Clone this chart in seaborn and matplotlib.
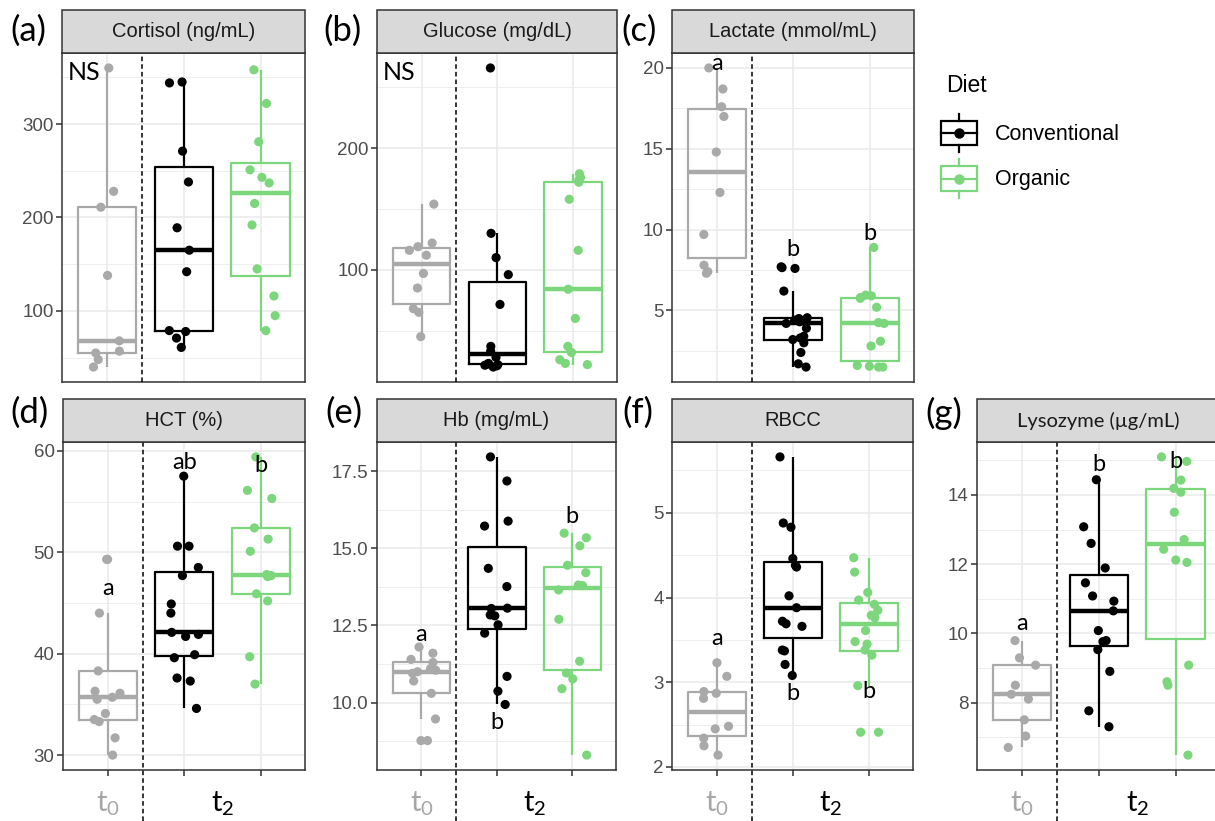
import numpy as np
import pandas as pd
import matplotlib
matplotlib.use("Agg")
import matplotlib.pyplot as plt
import matplotlib.transforms as mtrans
from matplotlib.patches import Rectangle
from matplotlib.lines import Line2D
from matplotlib.legend_handler import HandlerBase
from matplotlib.ticker import MultipleLocator
import seaborn as sns

# ---------------- data ----------------
GROUPS = ["t0", "Conventional", "Organic"]

cortisol_t0 = [360, 228, 211, 138, 68, 57, 55, 48, 40]
cortisol_conv = [345, 344, 271, 238, 189, 165, 142, 79, 78, 71, 61]
cortisol_org = [358, 322, 281, 251, 243, 237, 215, 192, 145, 116, 95, 79]

glucose_t0 = [154, 122, 119, 116, 112, 97, 85, 68, 65, 45]
glucose_conv = [266, 130, 110, 96, 71.5, 37, 33, 28, 23, 22.5, 22, 21.5, 21, 20]
glucose_org = [179, 176, 174, 172, 158, 116, 84, 60, 37, 32, 26, 23, 22]

lactate_t0 = [20.0, 18.7, 17.6, 17.0, 14.8, 12.3, 9.7, 7.8, 7.4, 7.3]
lactate_conv = [7.7, 7.65, 7.6, 6.2, 4.55, 4.5, 4.4, 4.3, 4.2, 3.9, 3.4, 3.3, 3.2, 3.0, 2.4, 1.7, 1.5]
lactate_org = [8.9, 5.95, 5.9, 5.8, 5.75, 5.2, 4.25, 4.2, 3.1, 2.8, 1.6, 1.55, 1.5, 1.5]

hct_t0 = [49.3, 49.3, 44.0, 38.3, 36.3, 36.1, 35.7, 35.5, 34.1, 33.5, 33.3, 31.7, 30.0]
hct_conv = [57.5, 50.6, 50.6, 48.5, 47.7, 44.9, 44.0, 42.1, 41.9, 41.7, 39.9, 39.6, 37.6, 37.3, 34.6]
hct_org = [59.4, 56.1, 55.3, 52.4, 51.3, 50.1, 47.8, 47.7, 47.6, 45.9, 45.2, 39.7, 37.0]

hb_t0 = [11.8, 11.6, 11.4, 11.3, 11.1, 11.05, 11.0, 10.95, 10.7, 10.3, 9.47, 8.77, 8.77]
hb_conv = [17.96, 17.18, 15.88, 15.72, 14.35, 13.76, 13.06, 13.05, 12.84, 12.81, 12.52, 12.25, 10.85, 10.37, 9.94]
hb_org = [15.49, 15.34, 15.08, 14.45, 14.21, 13.81, 13.79, 13.65, 12.70, 11.34, 10.96, 10.77, 10.45, 8.30]

rbcc_t0 = [3.23, 3.07, 2.89, 2.87, 2.81, 2.48, 2.45, 2.34, 2.25, 2.14]
rbcc_conv = [5.66, 4.88, 4.83, 4.46, 4.38, 4.36, 4.02, 3.88, 3.72, 3.69, 3.66, 3.38, 3.37, 3.21, 3.08]
rbcc_org = [4.47, 4.30, 4.06, 3.97, 3.92, 3.85, 3.79, 3.76, 3.61, 3.48, 3.45, 3.38, 3.32, 2.96, 2.41, 2.41]

lys_t0 = [9.79, 9.29, 9.08, 8.50, 8.24, 8.10, 7.50, 7.03, 6.70]
lys_conv = [14.44, 13.08, 12.60, 11.89, 11.46, 11.08, 10.93, 10.65, 10.08, 9.79, 9.76, 9.53, 8.90, 7.76, 7.30]
lys_org = [15.10, 14.97, 14.43, 14.19, 14.08, 13.50, 12.71, 12.43, 12.12, 12.05, 9.08, 8.60, 8.50, 6.48]

panel_tags = ["(a)", "(b)", "(c)", "(d)", "(e)", "(f)", "(g)"]
panel_titles = ["Cortisol (ng/mL)", "Glucose (mg/dL)", "Lactate (mmol/mL)",
                "HCT (%)", "Hb (mg/mL)", "RBCC", "Lysozyme (µg/mL)"]
panel_series = [
    (cortisol_t0, cortisol_conv, cortisol_org),
    (glucose_t0, glucose_conv, glucose_org),
    (lactate_t0, lactate_conv, lactate_org),
    (hct_t0, hct_conv, hct_org),
    (hb_t0, hb_conv, hb_org),
    (rbcc_t0, rbcc_conv, rbcc_org),
    (lys_t0, lys_conv, lys_org),
]
# significance letters (group index, y, text)
panel_letters = [
    [], [],
    [(0, 20.25, "a"), (1, 8.8, "b"), (2, 9.75, "b")],
    [(0, 46.4, "a"), (1, 58.85, "ab"), (2, 58.6, "b")],
    [(0, 12.2, "a"), (1, 9.34, "b"), (2, 16.02, "b")],
    [(0, 3.52, "a"), (1, 2.87, "b"), (2, 2.89, "b")],
    [(0, 10.27, "a"), (1, 14.89, "b"), (2, 14.98, "b")],
]
panel_ns = [True, True, False, False, False, False, False]
major_step = [100, 100, 5, 10, 2.5, 1, 2]
tick_fmt = ["{:.0f}", "{:.0f}", "{:.0f}", "{:.0f}", "{:.1f}", "{:.0f}", "{:.0f}"]
x_labels = ["t$\\mathregular{_0}$", "t$\\mathregular{_2}$"]
legend_title = "Diet"
legend_labels = ["Conventional", "Organic"]

# ---------------- style ----------------
C_GRAY = "#A9A9A9"
C_BLACK = "#000000"
C_GREEN = "#7CD67C"
palette = {"t0": C_GRAY, "Conventional": C_BLACK, "Organic": C_GREEN}
SANS = ["Liberation Sans", "DejaVu Sans"]
CAL = ["Lato", "DejaVu Sans"]
plt.rcParams["font.family"] = SANS

W, H = 1215, 821
fig = plt.figure(figsize=(W / 100, H / 100), dpi=100)

# panel boxes in pixels: x0, x1, ytop, ybottom
panel_px = [
    (62, 305, 53, 382), (377, 617, 53, 382), (672, 914, 53, 382),
    (63, 305, 442, 770), (377, 616, 442, 770), (672, 913, 442, 770), (977, 1220, 442, 770),
]
tag_px = [(10, 31), (323, 31), (621, 31), (10, 413), (325, 413), (622, 413), (925, 413)]
STRIP_PX = 43

np.random.seed(3)
for i in range(7):
    x0, x1, yt, yb = panel_px[i]
    ax = fig.add_axes([x0 / W, 1 - yb / H, (x1 - x0) / W, (yb - yt) / H])
    vals = panel_series[i]
    df = pd.DataFrame({
        "group": np.concatenate([[g] * len(v) for g, v in zip(GROUPS, vals)]),
        "value": np.concatenate([np.asarray(v, float) for v in vals]),
    })
    sns.boxplot(data=df, x="group", y="value", hue="group", order=GROUPS,
                hue_order=GROUPS, palette=palette, fill=False, width=0.76,
                linewidth=1.6, showfliers=False, whis=1.5,
                medianprops=dict(linewidth=3.2), capprops=dict(linewidth=0),
                legend=False, ax=ax)
    sns.stripplot(data=df, x="group", y="value", hue="group", order=GROUPS,
                  hue_order=GROUPS, palette=palette, jitter=0.2, size=6.6,
                  linewidth=0, legend=False, ax=ax, zorder=4)
    lo, hi = df["value"].min(), df["value"].max()
    pad = 0.05 * (hi - lo)
    ax.set_ylim(lo - pad, hi + pad)
    ax.set_xlim(-0.59, 2.58)
    ax.set_xlabel("")
    ax.set_ylabel("")
    ax.set_axisbelow(True)
    ax.yaxis.set_major_locator(MultipleLocator(major_step[i]))
    ax.yaxis.set_minor_locator(MultipleLocator(major_step[i] / 2))
    ax.yaxis.set_major_formatter(matplotlib.ticker.FuncFormatter(
        lambda v, p, f=tick_fmt[i]: f.format(v)))
    ax.set_xticks([0, 1, 2])
    ax.set_xticklabels(["", "", ""])
    ax.grid(which="major", color="#EBEBEB", lw=1.2)
    ax.grid(which="minor", axis="y", color="#EBEBEB", lw=0.6)
    ax.tick_params(axis="y", which="major", length=4, width=1.1, color="#333333",
                   labelsize=13.5, labelcolor="#4D4D4D", pad=2)
    ax.tick_params(axis="y", which="minor", length=0)
    bottom_row = i >= 3
    ax.tick_params(axis="x", which="major", length=4 if bottom_row else 0,
                   width=1.1, color="#333333")
    for s in ax.spines.values():
        s.set_color("#333333")
        s.set_linewidth(1.1)

    ah = yb - yt
    sh = STRIP_PX / ah
    ax.add_patch(Rectangle((0, 1), 1, sh, transform=ax.transAxes, clip_on=False,
                           facecolor="#D9D9D9", edgecolor="#333333", lw=1.1, zorder=5))
    ax.text(0.5, 1 + sh / 2, panel_titles[i], transform=ax.transAxes,
            ha="center", va="center", fontsize=14.5, color="#1A1A1A",
            family=CAL if i == 6 else SANS, zorder=6)

    bt = mtrans.blended_transform_factory(ax.transData, ax.transAxes)
    ybot = -(H - yb) / ah if bottom_row else 0
    ax.plot([0.46, 0.46], [ybot, 1], transform=bt, color="black", lw=1.1,
            ls=(0, (3, 2)), clip_on=False, zorder=3)

    if bottom_row:
        ax.text(0, -34 / ah, x_labels[0], transform=bt, ha="center", va="center",
                fontsize=21, color="#A6A6A6", family=CAL)
        ax.text(1.5, -34 / ah, x_labels[1], transform=bt, ha="center", va="center",
                fontsize=21, color="black", family=CAL)

    if panel_ns[i]:
        ax.text(0.024, 1 - 19 / ah, "NS", transform=ax.transAxes, ha="left",
                va="center", fontsize=18, color="black", family=CAL, zorder=6)
    for gi, yv, txt in panel_letters[i]:
        ax.text(gi, yv, txt, ha="center", va="center", fontsize=17,
                color="black", family=CAL, zorder=6)

    tx, ty = tag_px[i]
    fig.text(tx / W, 1 - ty / H, panel_tags[i], ha="left", va="center",
             fontsize=25, family=CAL, color="black")


class BoxKeyHandler(HandlerBase):
    def create_artists(self, legend, orig_handle, xdescent, ydescent,
                       width, height, fontsize, trans):
        c = orig_handle.get_color()
        x0, y0 = -xdescent, -ydescent
        cx, cy = x0 + width / 2, y0 + height / 2
        bh, wh = height * 0.32, height * 0.5
        arts = [
            Rectangle((x0, cy - bh), width, 2 * bh, fill=False, edgecolor=c,
                      lw=1.6, transform=trans),
            Line2D([x0, x0 + width], [cy, cy], color=c, lw=1.6, transform=trans),
            Line2D([cx, cx], [cy + bh, cy + wh], color=c, lw=1.6, transform=trans),
            Line2D([cx, cx], [cy - bh, cy - wh], color=c, lw=1.6, transform=trans),
            Line2D([cx], [cy], marker="o", ms=6.5, color=c, ls="", transform=trans),
        ]
        return arts


fig.text(946 / W, 1 - 85 / H, legend_title, ha="left", va="center",
         fontsize=16.5, color="black")
handles = [Line2D([], [], color=C_BLACK), Line2D([], [], color=C_GREEN)]
leg = fig.legend(handles, legend_labels, loc="upper left",
                 bbox_to_anchor=(941 / W, 1 - 114 / H), frameon=False,
                 fontsize=15.5, handlelength=1.65,
                 handleheight=2.36, handletextpad=0.85, labelspacing=0.33,
                 borderpad=0, borderaxespad=0,
                 handler_map={Line2D: BoxKeyHandler()})

fig.savefig("out.png", dpi=100)
